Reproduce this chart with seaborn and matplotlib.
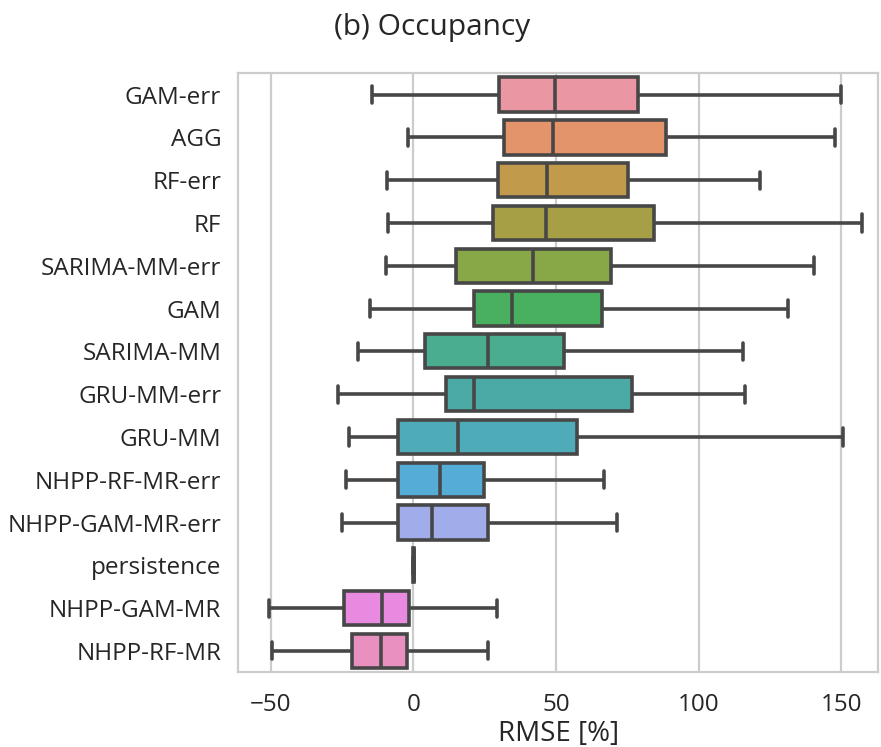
import matplotlib
matplotlib.use("Agg")
import matplotlib.pyplot as plt
import pandas as pd
import seaborn as sns

# five numbers per method: min, q1, median, q3, max (RMSE in %)
methods = ["GAM-err", "AGG", "RF-err", "RF", "SARIMA-MM-err", "GAM", "SARIMA-MM",
           "GRU-MM-err", "GRU-MM", "NHPP-RF-MR-err", "NHPP-GAM-MR-err", "persistence",
           "NHPP-GAM-MR", "NHPP-RF-MR"]
low = [-14.4, -1.9, -9.1, -8.8, -9.5, -15.2, -19.4, -26.5, -22.7, -23.6, -25.0, 0.0, -50.6, -49.4]
q1 = [30.1, 31.9, 29.6, 28.0, 15.0, 21.4, 4.1, 11.6, -5.4, -5.4, -5.2, 0.05, -24.3, -21.4]
median = [49.5, 48.8, 46.8, 46.4, 42.1, 34.7, 26.3, 21.4, 15.6, 9.2, 6.7, 0.1, -10.9, -11.5]
q3 = [78.8, 88.4, 75.4, 84.4, 69.2, 66.1, 52.9, 76.8, 57.4, 24.6, 26.2, 0.15, -1.4, -2.2]
high = [150.0, 147.9, 121.5, 157.4, 140.4, 131.4, 115.5, 116.1, 150.7, 66.9, 71.3, 0.3, 29.2, 26.3]

rows = []
for i, m in enumerate(methods):
    for v in (low[i], q1[i], median[i], q3[i], high[i]):
        rows.append({"method": m, "rmse": v})
df = pd.DataFrame(rows)

sns.set_theme(style="whitegrid")
plt.rcParams["font.family"] = ["Open Sans", "DejaVu Sans"]
plt.rcParams["axes.edgecolor"] = "#cccccc"
plt.rcParams["axes.linewidth"] = 1.6

fig = plt.figure(figsize=(8.81, 7.47), dpi=100)
ax = fig.add_axes([0.270, 0.100, 0.727, 0.802])

palette = sns.husl_palette(len(methods), l=0.7)
sns.boxplot(data=df, x="rmse", y="method", hue="method", order=methods,
            palette=palette, legend=False, whis=(0, 100), width=0.8,
            linewidth=2.6, linecolor="#474747", saturation=0.75, ax=ax)

ax.set_xlim(-61.5, 163)
ax.set_xticks([-50, 0, 50, 100, 150])
ax.set_xlabel("RMSE [%]", fontsize=20, labelpad=2, color="#262626")
ax.set_ylabel("")
ax.tick_params(axis="both", labelsize=17.5, colors="#262626")
ax.tick_params(axis="y", pad=6)
ax.tick_params(axis="x", pad=9)
ax.grid(axis="y", visible=False)
ax.grid(axis="x", color="#cccccc", linewidth=1.6)

fig.suptitle("(b) Occupancy", x=0.49, y=0.963, va="center", fontsize=21.5)

fig.savefig("out.png", dpi=100)
